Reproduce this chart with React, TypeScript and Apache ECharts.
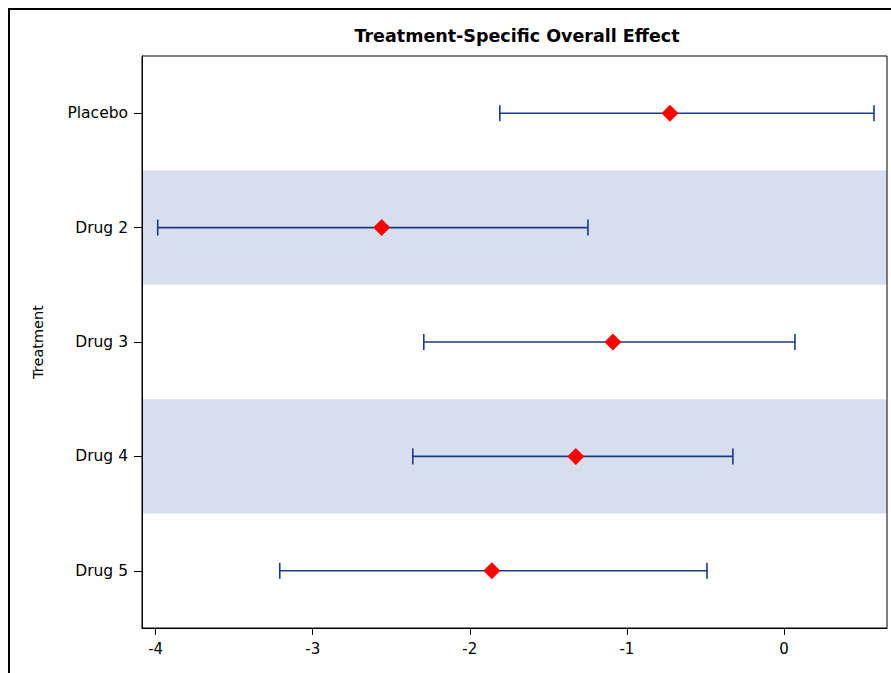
import React, { useEffect, useRef } from "react";
import * as echarts from "echarts";

const categories = ["Placebo", "Drug 2", "Drug 3", "Drug 4", "Drug 5"];
const means = [-0.726, -2.561, -1.089, -1.325, -1.86];
const lows = [-1.809, -3.987, -2.293, -2.363, -3.21];
const highs = [0.573, -1.248, 0.07, -0.325, -0.49];
const xTicks = [-4, -3, -2, -1, 0];

const FONT = "DejaVu Sans";

export default function App() {
  const ref = useRef<HTMLDivElement>(null);
  useEffect(() => {
    document.documentElement.style.overflow = "hidden";
    document.body.style.overflow = "hidden";
    document.body.style.margin = "0";
    const chart = echarts.init(ref.current!, null, { renderer: "svg" });
    const barData = categories.map((c, i) => [i, lows[i], highs[i]]);
    const pointData = categories.map((c, i) => [means[i], c]);
    chart.setOption({
      animation: false,
      backgroundColor: "#fff",
      title: {
        text: "Treatment-Specific Overall Effect",
        left: 512,
        top: 22,
        textAlign: "center",
        textStyle: { fontFamily: FONT, fontSize: 17.5, fontWeight: "bold", color: "#000" },
      },
      graphic: [
        {
          type: "rect",
          shape: { x: 9, y: 9, width: 1000, height: 1000 },
          style: { fill: "none", stroke: "#000", lineWidth: 2 },
          silent: true,
          z: 100,
        },
      ],
      grid: {
        left: 142,
        top: 56,
        width: 745,
        height: 572,
        show: true,
        borderColor: "#000",
        borderWidth: 1,
        backgroundColor: "transparent",
        z: 10,
      },
      xAxis: {
        type: "value",
        min: -4.087,
        max: 0.656,
        axisLine: { show: true, onZero: false, lineStyle: { color: "#000", width: 1 } },
        axisTick: { show: true, length: 7, customValues: xTicks, lineStyle: { color: "#000" } },
        axisLabel: {
          customValues: xTicks,
          margin: 13,
          fontFamily: FONT,
          fontSize: 15,
          color: "#000",
          formatter: (v: number) => String(v),
        },
        splitLine: { show: false },
      },
      yAxis: {
        type: "category",
        data: categories,
        inverse: true,
        name: "Treatment",
        nameLocation: "middle",
        nameGap: 97,
        nameTextStyle: { fontFamily: FONT, fontSize: 14.5, color: "#000" },
        axisLine: { show: true, onZero: false, lineStyle: { color: "#000", width: 1 } },
        axisTick: { show: true, alignWithLabel: true, length: 8, lineStyle: { color: "#000" } },
        axisLabel: { margin: 14, fontFamily: FONT, fontSize: 15.5, color: "#000" },
        splitLine: { show: false },
        splitArea: { show: true, areaStyle: { color: ["rgba(255,255,255,0)", "#d7deee"] } },
      },
      series: [
        {
          type: "custom",
          data: barData,
          encode: { x: [1, 2], y: 0 },
          renderItem: (params: any, api: any) => {
            const idx = api.value(0);
            const p1 = api.coord([api.value(1), idx]);
            const p2 = api.coord([api.value(2), idx]);
            const h = 8;
            const style = { stroke: "#1a3a86", lineWidth: 1.6 };
            return {
              type: "group",
              children: [
                { type: "line", shape: { x1: p1[0], y1: p1[1], x2: p2[0], y2: p2[1] }, style },
                { type: "line", shape: { x1: p1[0], y1: p1[1] - h, x2: p1[0], y2: p1[1] + h }, style },
                { type: "line", shape: { x1: p2[0], y1: p2[1] - h, x2: p2[0], y2: p2[1] + h }, style },
              ],
            };
          },
          z: 2,
        },
        {
          type: "scatter",
          data: pointData,
          symbol: "diamond",
          symbolSize: [17, 17],
          itemStyle: { color: "#ff0000", opacity: 1 },
          z: 3,
        },
      ],
    });
    return () => chart.dispose();
  }, []);
  return <div ref={ref} style={{ width: 891, height: 673 }} />;
}
